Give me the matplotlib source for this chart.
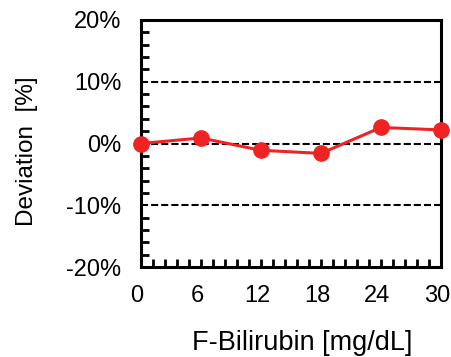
import matplotlib
matplotlib.use("Agg")
import matplotlib.pyplot as plt
import matplotlib.transforms as mtransforms
from matplotlib.ticker import MultipleLocator, FuncFormatter

plt.rcParams["font.family"] = ["Liberation Sans", "DejaVu Sans"]

# data
bilirubin = [0, 6, 12, 18, 24, 30]
deviation = [0.0, 0.9, -1.1, -1.6, 2.6, 2.2]

fig = plt.figure(figsize=(4.51, 3.57), dpi=100)
ax = fig.add_axes([0.3126, 0.252, 0.665, 0.692])

for yv in (-10, 0, 10):
    ax.axhline(yv, color="black", lw=1.5, ls=(0, (3.4, 1.45)), zorder=1)

ax.plot(bilirubin, deviation, color="#ee2424", lw=2.2, marker="o", ms=11,
        clip_on=False, zorder=3)

ax.set_xlim(0, 30)
ax.set_ylim(-20, 20)
ax.xaxis.set_major_locator(MultipleLocator(6))
ax.xaxis.set_minor_locator(MultipleLocator(1.2))
ax.yaxis.set_major_locator(MultipleLocator(10))
ax.yaxis.set_minor_locator(MultipleLocator(2))
ax.yaxis.set_major_formatter(FuncFormatter(lambda v, p: f"{v:.0f}%"))

ax.tick_params(which="both", direction="in", top=False, right=False,
               labelsize=17, width=2, color="black")
ax.tick_params(which="major", length=6, pad=13)
ax.tick_params(which="minor", length=6)
ax.tick_params(axis="y", which="major", length=0, pad=14)

# x tick labels sit a little left of their ticks in the original
shift = mtransforms.ScaledTranslation(-4 / 100, 0, fig.dpi_scale_trans)
for lbl in ax.get_xticklabels():
    lbl.set_transform(lbl.get_transform() + shift)

for s in ax.spines.values():
    s.set_linewidth(2.2)

# axis titles placed in figure pixels
fig.text(302 / 451, 1 - 343 / 357, "F-Bilirubin [mg/dL]", fontsize=19.5,
         ha="center", va="center")
fig.text(27 / 451, 1 - 151 / 357, "Deviation  [%]", fontsize=17.5,
         ha="center", va="center", rotation=90)

plt.savefig("out.png", dpi=100, facecolor="white")
